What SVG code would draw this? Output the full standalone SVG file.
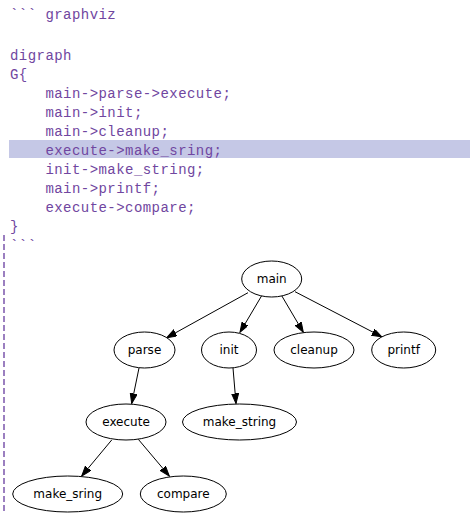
<svg xmlns="http://www.w3.org/2000/svg" width="470" height="528" viewBox="0 0 470 528">
<style>
.code{font-family:"Liberation Mono","DejaVu Sans Mono",monospace;font-size:14px;letter-spacing:0.45px;fill:#7046a0}
.node ellipse{fill:#ffffff;stroke:#000000;stroke-width:1}
.node text{font-family:"DejaVu Sans","Liberation Sans",sans-serif;font-size:12px;fill:#000000;text-anchor:middle}
.edge{stroke:#000000;stroke-width:1;fill:none;marker-end:url(#arrow)}
</style>
<defs>
<marker id="arrow" markerUnits="userSpaceOnUse" markerWidth="11" markerHeight="8" refX="10" refY="3.5" orient="auto">
<path d="M0,0 L10,3.5 L0,7 Z" fill="#000000" stroke="#000000" stroke-width="1"/>
</marker>
</defs>
<rect x="0" y="0" width="470" height="528" fill="#ffffff"/>
<g id="code">
<rect x="9" y="140" width="461" height="18" fill="#c5c8e6"/>
<line x1="4" y1="235" x2="4" y2="512" stroke="#9b7fc0" stroke-width="2" stroke-dasharray="6,3"/>
<text class="code" x="10" y="19">``` graphviz</text>
<text class="code" x="10" y="59.5">digraph</text>
<text class="code" x="10" y="78.5">G{</text>
<text class="code" x="45.4" y="97.5">main-&gt;parse-&gt;execute;</text>
<text class="code" x="45.4" y="116.5">main-&gt;init;</text>
<text class="code" x="45.4" y="135.5">main-&gt;cleanup;</text>
<text class="code" x="45.4" y="154.5">execute-&gt;make_sring;</text>
<text class="code" x="45.4" y="173.5">init-&gt;make_string;</text>
<text class="code" x="45.4" y="192.5">main-&gt;printf;</text>
<text class="code" x="45.4" y="211.5">execute-&gt;compare;</text>
<text class="code" x="10" y="230.5">}</text>
<text class="code" x="10" y="249.5">```</text>
</g>
<g id="edges">
<line class="edge" x1="248" y1="292.7" x2="166.7" y2="337.7"/>
<line class="edge" x1="261.7" y1="295.7" x2="240" y2="332.3"/>
<line class="edge" x1="281.7" y1="295.7" x2="303.3" y2="332.3"/>
<line class="edge" x1="295" y1="291.7" x2="381.7" y2="336.7"/>
<line class="edge" x1="139" y1="368" x2="131.7" y2="403.5"/>
<line class="edge" x1="233" y1="368" x2="236" y2="403.5"/>
<line class="edge" x1="111.7" y1="440" x2="81.7" y2="476"/>
<line class="edge" x1="138.3" y1="439.3" x2="169.3" y2="476"/>
</g>
<g id="main" class="node"><ellipse cx="271.7" cy="279" rx="30" ry="18"/><text x="271.7" y="283.3">main</text></g>
<g id="parse" class="node"><ellipse cx="144.5" cy="350" rx="30.5" ry="18"/><text x="144.5" y="354.3">parse</text></g>
<g id="init" class="node"><ellipse cx="229" cy="350" rx="27.5" ry="18"/><text x="229" y="354.3">init</text></g>
<g id="cleanup" class="node"><ellipse cx="314" cy="350" rx="40" ry="18"/><text x="314" y="354.3">cleanup</text></g>
<g id="printf" class="node"><ellipse cx="403.7" cy="350" rx="32" ry="18"/><text x="403.7" y="354.3">printf</text></g>
<g id="execute" class="node"><ellipse cx="126" cy="422" rx="40" ry="18"/><text x="126" y="426.3">execute</text></g>
<g id="make_string" class="node"><ellipse cx="239.5" cy="422" rx="57" ry="18"/><text x="239.5" y="426.3">make_string</text></g>
<g id="make_sring" class="node"><ellipse cx="67.7" cy="494" rx="55" ry="18"/><text x="67.7" y="498.3">make_sring</text></g>
<g id="compare" class="node"><ellipse cx="183.3" cy="494" rx="43" ry="18"/><text x="183.3" y="498.3">compare</text></g>
</svg>
